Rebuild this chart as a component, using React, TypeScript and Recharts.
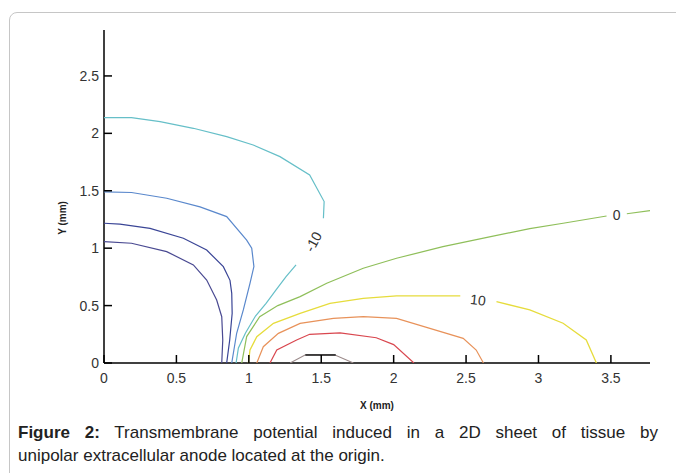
import React from 'react';
import { ScatterChart, Scatter, XAxis, YAxis } from 'recharts';

type P = { x: number; y: number };

const xTicks: number[] = [0, 0.5, 1, 1.5, 2, 2.5, 3, 3.5];
const yTicks: number[] = [0, 0.5, 1, 1.5, 2, 2.5];

// contour level -40
const levelM40: P[] = [
  { x: 0, y: 1.057 }, { x: 0.19, y: 1.043 }, { x: 0.433, y: 0.97 }, { x: 0.617, y: 0.854 },
  { x: 0.709, y: 0.723 }, { x: 0.778, y: 0.549 }, { x: 0.813, y: 0.403 }, { x: 0.82, y: 0.2 },
  { x: 0.813, y: 0 },
];
// contour level -30
const levelM30: P[] = [
  { x: 0, y: 1.217 }, { x: 0.11, y: 1.21 }, { x: 0.318, y: 1.173 }, { x: 0.548, y: 1.086 },
  { x: 0.709, y: 0.984 }, { x: 0.824, y: 0.839 }, { x: 0.87, y: 0.72 }, { x: 0.882, y: 0.607 },
  { x: 0.885, y: 0.433 }, { x: 0.868, y: 0.2 }, { x: 0.847, y: 0 },
];
// contour level -20
const levelM20: P[] = [
  { x: 0, y: 1.49 }, { x: 0.19, y: 1.485 }, { x: 0.433, y: 1.435 }, { x: 0.663, y: 1.36 },
  { x: 0.847, y: 1.275 }, { x: 0.985, y: 1.07 }, { x: 1.02, y: 1.0 }, { x: 1.035, y: 0.84 },
  { x: 1.008, y: 0.694 }, { x: 0.962, y: 0.462 }, { x: 0.916, y: 0.259 }, { x: 0.882, y: 0 },
];
// contour level -10 (split around its label)
const levelM10a: P[] = [
  { x: 0, y: 2.137 }, { x: 0.19, y: 2.137 }, { x: 0.387, y: 2.102 }, { x: 0.617, y: 2.044 },
  { x: 0.847, y: 1.971 }, { x: 1.03, y: 1.899 }, { x: 1.215, y: 1.797 }, { x: 1.42, y: 1.638 },
  { x: 1.52, y: 1.406 }, { x: 1.515, y: 1.26 },
];
const levelM10b: P[] = [
  { x: 1.326, y: 0.854 }, { x: 1.257, y: 0.752 }, { x: 1.188, y: 0.636 }, { x: 1.119, y: 0.52 },
  { x: 1.046, y: 0.409 }, { x: 0.977, y: 0.261 }, { x: 0.928, y: 0.131 }, { x: 0.912, y: 0 },
];
// contour level 0
const level0a: P[] = [
  { x: 0.951, y: 0 }, { x: 0.985, y: 0.23 }, { x: 1.075, y: 0.403 }, { x: 1.2, y: 0.5 },
  { x: 1.354, y: 0.578 }, { x: 1.538, y: 0.694 }, { x: 1.79, y: 0.825 }, { x: 2.02, y: 0.912 },
  { x: 2.34, y: 1.013 }, { x: 2.67, y: 1.1 }, { x: 2.94, y: 1.17 }, { x: 3.17, y: 1.217 },
  { x: 3.47, y: 1.28 },
];
const level0b: P[] = [{ x: 3.61, y: 1.3 }, { x: 3.77, y: 1.327 }];
// contour level 10
const level10a: P[] = [
  { x: 0.997, y: 0 }, { x: 1.008, y: 0.113 }, { x: 1.055, y: 0.229 }, { x: 1.17, y: 0.346 },
  { x: 1.354, y: 0.433 }, { x: 1.56, y: 0.52 }, { x: 1.79, y: 0.563 }, { x: 2.02, y: 0.584 },
  { x: 2.46, y: 0.584 },
];
const level10b: P[] = [
  { x: 2.71, y: 0.534 }, { x: 2.94, y: 0.462 }, { x: 3.17, y: 0.346 }, { x: 3.33, y: 0.2 },
  { x: 3.4, y: 0 },
];
// contour level 20
const level20: P[] = [
  { x: 1.055, y: 0 }, { x: 1.1, y: 0.142 }, { x: 1.204, y: 0.258 }, { x: 1.354, y: 0.345 },
  { x: 1.584, y: 0.389 }, { x: 1.79, y: 0.403 }, { x: 2.02, y: 0.389 }, { x: 2.25, y: 0.302 },
  { x: 2.48, y: 0.215 }, { x: 2.57, y: 0.113 }, { x: 2.62, y: 0 },
];
// contour level 30
const level30: P[] = [
  { x: 1.146, y: 0 }, { x: 1.193, y: 0.113 }, { x: 1.33, y: 0.2 }, { x: 1.42, y: 0.25 },
  { x: 1.63, y: 0.262 }, { x: 1.88, y: 0.22 }, { x: 2.0, y: 0.16 }, { x: 2.14, y: 0 },
];
// contour level 40
const level40: P[] = [
  { x: 1.285, y: 0 }, { x: 1.388, y: 0.07 }, { x: 1.595, y: 0.07 }, { x: 1.722, y: 0 },
];
const level40cap: P[] = [{ x: 1.39, y: 0.07 }, { x: 1.6, y: 0.07 }];

const contourLabels = [
  { x: 1.445, y: 1.057, text: '-10', angle: -62 },
  { x: 3.54, y: 1.29, text: '0', angle: 0 },
  { x: 2.583, y: 0.549, text: '10', angle: 6 },
];

const series: { data: P[]; color: string; width: number }[] = [
  { data: levelM40, color: '#4a4a92', width: 1.2 },
  { data: levelM30, color: '#3a4596', width: 1.2 },
  { data: levelM20, color: '#5a88cc', width: 1.2 },
  { data: levelM10a, color: '#66bfc8', width: 1.2 },
  { data: levelM10b, color: '#66bfc8', width: 1.2 },
  { data: level0a, color: '#8fbf5a', width: 1.2 },
  { data: level0b, color: '#8fbf5a', width: 1.2 },
  { data: level10a, color: '#e6dc3c', width: 1.3 },
  { data: level10b, color: '#e6dc3c', width: 1.3 },
  { data: level20, color: '#e8925a', width: 1.2 },
  { data: level30, color: '#d9474f', width: 1.2 },
  { data: level40, color: '#9b8a8a', width: 1.1 },
  { data: level40cap, color: '#222222', width: 1.6 },
];

const FONT = '"Liberation Sans", Arial, Helvetica, sans-serif';
const TICK_LEN = 8;
const Y_MARGIN = 5;
const X_MARGIN = 6;

const NoDot = () => <g />;

const YTick = (props: any) => {
  const { x, y, payload } = props;
  return (
    <g>
      <line x1={x + Y_MARGIN} x2={x + Y_MARGIN + TICK_LEN} y1={y} y2={y} stroke="#000" strokeWidth={1.5} />
      <text x={x} y={y} dy={5} textAnchor="end" fontSize={14} fill="#333" fontFamily={FONT}>
        {payload.value}
      </text>
    </g>
  );
};

const XTick = (props: any) => {
  const { x, y, payload } = props;
  return (
    <g>
      <line x1={x} x2={x} y1={y - X_MARGIN} y2={y - X_MARGIN - TICK_LEN} stroke="#000" strokeWidth={1.5} />
      <text x={x} y={y} dy={14} textAnchor="middle" fontSize={14} fill="#333" fontFamily={FONT}>
        {payload.value}
      </text>
    </g>
  );
};

const LabelShape = (props: any) => {
  const { cx, cy, payload } = props;
  return (
    <text
      x={cx}
      y={cy}
      transform={`rotate(${payload.angle} ${cx} ${cy})`}
      textAnchor="middle"
      dominantBaseline="central"
      fontSize={14}
      fill="#333"
      fontFamily={FONT}
    >
      {payload.text}
    </text>
  );
};

export default function App() {
  return (
    <div
      style={{
        position: 'absolute',
        left: 0,
        top: 0,
        width: 676,
        height: 473,
        overflow: 'hidden',
        background: '#fff',
        fontFamily: FONT,
      }}
    >
      <div
        style={{
          position: 'absolute',
          left: 9,
          top: 12,
          width: 720,
          height: 520,
          border: '1px solid #c6c6c6',
          borderRadius: 8,
          boxSizing: 'border-box',
        }}
      />
      <div style={{ position: 'absolute', left: 0, top: 0 }}>
        <ScatterChart width={676} height={473} margin={{ top: 30, right: 26, bottom: 80, left: 44 }}>
          <XAxis
            type="number"
            dataKey="x"
            domain={[0, 3.77]}
            ticks={xTicks}
            allowDataOverflow
            height={30}
            tickSize={0}
            tickMargin={X_MARGIN}
            tickLine={false}
            tick={<XTick />}
            axisLine={{ stroke: '#000', strokeWidth: 1.5 }}
            interval={0}
          />
          <YAxis
            type="number"
            dataKey="y"
            domain={[0, 2.9]}
            ticks={yTicks}
            allowDataOverflow
            width={60}
            tickSize={0}
            tickMargin={Y_MARGIN}
            tickLine={false}
            tick={<YTick />}
            axisLine={{ stroke: '#000', strokeWidth: 1.5 }}
            interval={0}
          />
          {series.map((s, i) => (
            <Scatter
              key={i}
              data={s.data}
              line={{ stroke: s.color, strokeWidth: s.width, fill: 'none' }}
              lineType="joint"
              shape={<NoDot />}
              fill={s.color}
              isAnimationActive={false}
            />
          ))}
          <Scatter data={contourLabels} shape={<LabelShape />} isAnimationActive={false} />
        </ScatterChart>
      </div>
      <div
        style={{
          position: 'absolute',
          left: 62,
          top: 218,
          transform: 'translate(-50%, -50%) rotate(-90deg)',
          fontSize: 10,
          fontWeight: 'bold',
          color: '#222',
          whiteSpace: 'nowrap',
        }}
      >
        Y (mm)
      </div>
      <div
        style={{
          position: 'absolute',
          left: 377,
          top: 405,
          transform: 'translate(-50%, -50%)',
          fontSize: 10,
          fontWeight: 'bold',
          color: '#222',
          whiteSpace: 'nowrap',
        }}
      >
        X (mm)
      </div>
      <div
        style={{
          position: 'absolute',
          left: 18,
          top: 421,
          width: 640,
          fontSize: 17,
          lineHeight: '23px',
          color: '#222',
        }}
      >
        <div style={{ textAlign: 'justify', textAlignLast: 'justify', whiteSpace: 'nowrap' as any }}>
          <b>Figure 2:</b> Transmembrane potential induced in a 2D sheet of tissue by
        </div>
        <div>unipolar extracellular anode located at the origin.</div>
      </div>
    </div>
  );
}
